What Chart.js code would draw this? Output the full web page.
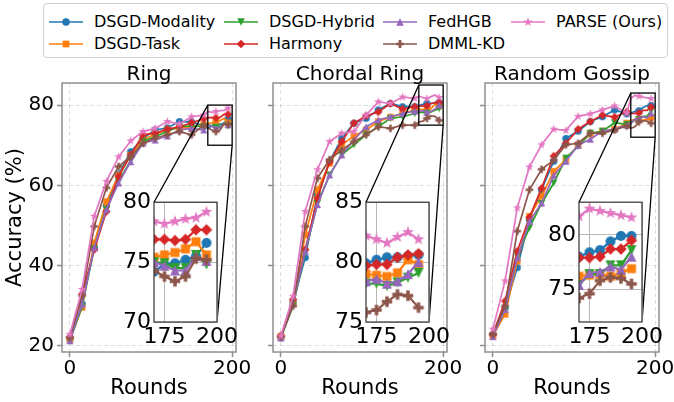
<!DOCTYPE html>
<html>
<head>
<meta charset="UTF-8">
<title>Accuracy vs Rounds</title>
<script src="https://cdn.jsdelivr.net/npm/chart.js@4"></script>
<style>
*{margin:0; padding:0;}
body{background:#fff; font-family:"DejaVu Sans", sans-serif;}
#wrap{position:relative; width:674px; height:402px; overflow:hidden; background:#fff;}
.abs{position:absolute;}
.ttl{position:absolute; font-size:20px; line-height:22px; text-align:center; width:174px; top:62px; color:#000; z-index:5;}
#legend{position:absolute; left:43px; top:3px; width:623px; height:53px; border:1px solid #d0d0d0; border-radius:4px; background:#fff; z-index:6;}
.item{position:absolute; height:20px; font-size:16px; line-height:20px; white-space:nowrap; color:#000;}
.item canvas{vertical-align:middle; margin-right:11px; position:relative; top:-1px;}
</style>
</head>
<body>
<div id="wrap">
	<div id="legend"></div>
	<canvas id="m0" class="abs" style="z-index:1"></canvas>
	<canvas id="m1" class="abs" style="z-index:1"></canvas>
	<canvas id="m2" class="abs" style="z-index:1"></canvas>
	<canvas id="ov" class="abs" style="z-index:2; left:0; top:0;" width="674" height="402"></canvas>
	<canvas id="i0" class="abs" style="z-index:3"></canvas>
	<canvas id="i1" class="abs" style="z-index:3"></canvas>
	<canvas id="i2" class="abs" style="z-index:3"></canvas>
</div>
<script>
// ---- data ----
const rounds = [0, 15, 30, 45, 60, 75, 90, 105, 120, 135, 150, 165, 170, 175, 180, 185, 190, 195];
const methods = ['DSGD-Modality', 'DSGD-Task', 'DSGD-Hybrid', 'Harmony', 'FedHGB', 'DMML-KD', 'PARSE (Ours)'];
const topologies = ['Ring', 'Chordal Ring', 'Random Gossip'];

// Ring
const ringModality = [21.8, 30.5, 44.5, 55.0, 62.8, 68.4, 71.7, 73.8, 74.3, 75.9, 75.8, 74.8, 74.2, 74.8, 74.9, 75.2, 75.5, 76.6];
const ringTask     = [21.6, 29.6, 45.7, 56.0, 62.5, 67.5, 71.3, 72.8, 73.8, 74.3, 74.3, 75.2, 75.4, 75.6, 75.8, 76.1, 76.7, 75.6];
const ringHybrid   = [21.3, 29.8, 44.3, 54.0, 61.0, 66.2, 71.0, 72.1, 73.5, 74.6, 74.8, 74.6, 75.0, 74.9, 74.5, 74.5, 75.6, 74.8];
const ringHarmony  = [22.2, 32.9, 44.0, 53.5, 62.2, 67.6, 72.6, 73.0, 74.0, 74.6, 75.6, 76.6, 76.9, 76.9, 76.8, 76.9, 77.7, 77.7];
const ringFedHGB   = [21.3, 30.4, 44.5, 54.0, 60.6, 65.9, 70.5, 71.3, 72.3, 73.8, 74.2, 73.8, 75.0, 74.7, 74.3, 74.3, 75.5, 75.1];
const ringDMML     = [22.2, 32.5, 49.8, 59.4, 64.7, 67.2, 70.5, 71.8, 72.6, 73.4, 72.6, 75.0, 74.3, 73.8, 73.4, 73.8, 75.3, 75.2];
const ringPARSE    = [22.9, 34.1, 52.3, 61.0, 67.1, 71.1, 73.4, 74.2, 75.9, 75.3, 77.1, 77.5, 78.4, 78.2, 78.4, 78.6, 78.7, 79.2];

// Chordal Ring
const chordModality = [22.1, 31.0, 42.0, 57.7, 66.0, 71.7, 75.5, 76.7, 78.8, 80.4, 79.6, 79.6, 79.9, 80.2, 80.4, 80.4, 80.5, 80.6];
const chordTask     = [22.4, 30.5, 47.7, 58.9, 65.5, 70.1, 72.3, 73.8, 75.9, 77.0, 77.9, 78.8, 79.0, 78.9, 78.8, 79.1, 80.2, 79.8];
const chordHybrid   = [22.0, 30.0, 43.2, 55.5, 62.6, 67.6, 70.1, 72.6, 74.6, 76.7, 77.1, 77.9, 78.2, 78.2, 78.0, 78.3, 78.7, 79.1];
const chordHarmony  = [22.5, 31.6, 44.0, 56.8, 65.9, 70.9, 75.5, 77.3, 78.3, 80.4, 79.0, 79.6, 79.7, 79.8, 79.8, 80.4, 80.6, 80.7];
const chordFedHGB   = [22.0, 30.5, 43.6, 55.2, 62.6, 67.6, 71.3, 74.6, 76.3, 77.1, 77.9, 78.5, 78.4, 78.6, 78.2, 78.4, 79.0, 80.0];
const chordDMML     = [22.3, 30.0, 49.8, 61.8, 66.4, 68.8, 70.9, 72.6, 74.6, 74.2, 75.0, 75.0, 75.8, 76.0, 76.7, 77.3, 77.2, 76.2];
const chordPARSE    = [22.5, 32.4, 53.5, 63.9, 70.9, 73.0, 73.4, 77.5, 80.8, 80.4, 82.0, 81.7, 82.2, 81.9, 81.6, 82.1, 82.5, 81.9];

// Random Gossip
const gossipModality = [22.9, 29.5, 39.5, 51.5, 58.9, 66.0, 71.7, 73.5, 75.9, 77.1, 78.8, 77.8, 78.0, 78.4, 78.6, 79.4, 79.9, 79.9];
const gossipTask     = [22.5, 27.9, 41.1, 52.3, 57.3, 63.5, 66.4, 70.0, 72.8, 73.5, 74.0, 75.5, 76.2, 76.3, 76.4, 76.2, 76.5, 76.9];
const gossipHybrid   = [22.6, 29.0, 42.4, 49.4, 55.5, 60.6, 66.8, 69.7, 73.0, 73.5, 75.6, 75.2, 75.4, 76.4, 76.4, 77.2, 77.2, 78.6];
const gossipHarmony  = [22.9, 31.2, 43.6, 52.0, 59.3, 67.3, 70.5, 74.0, 75.9, 77.5, 77.0, 78.3, 77.9, 77.9, 78.0, 78.7, 78.7, 79.5];
const gossipFedHGB   = [22.3, 29.1, 42.0, 51.0, 55.6, 62.5, 66.0, 70.0, 71.5, 73.5, 74.0, 75.0, 75.4, 76.5, 76.6, 77.1, 76.8, 78.0];
const gossipDMML     = [22.9, 30.0, 48.6, 58.9, 64.0, 66.3, 70.1, 70.5, 73.0, 73.0, 73.8, 74.8, 74.2, 74.6, 75.8, 76.1, 76.0, 75.5];
const gossipPARSE    = [24.2, 36.2, 54.4, 64.6, 70.1, 74.0, 73.7, 77.2, 77.8, 78.8, 79.8, 78.0, 81.7, 82.4, 82.2, 82.0, 81.8, 81.6];

const mainXTicks = [0, 200];
const mainYTicks = [20, 40, 60, 80];
const insetXRange = [170, 200];
const insetXTicks = [175, 200];
const insetYRanges = [[70, 80], [75, 85], [72, 83]];
const insetYTicks = [[70, 75, 80], [75, 80, 85], [75, 80]];

const series = [
	[ringModality, ringTask, ringHybrid, ringHarmony, ringFedHGB, ringDMML, ringPARSE],
	[chordModality, chordTask, chordHybrid, chordHarmony, chordFedHGB, chordDMML, chordPARSE],
	[gossipModality, gossipTask, gossipHybrid, gossipHarmony, gossipFedHGB, gossipDMML, gossipPARSE]
];

// ---- style ----
const colors = ['#1f77b4', '#ff7f0e', '#2ca02c', '#d62728', '#9467bd', '#8c564b', '#e377c2'];
const markers = ['o', 's', 'v', 'D', '^', 'P', '*'];
const SPINE = '#8f8f8f';
const GRID = 'rgba(0,0,0,0.13)';

const plotLeft = [62, 273, 485];
const PLOT_W = 174, PLOT_TOP = 83, PLOT_H = 269;
const YW = 62, TOP_PAD = 23, RIGHT_PAD = 25, XH = 50;

const insetLeft = [154, 366, 579];
const INSET_W = 63, INSET_TOP = 200, INSET_H = 122;
const IYW = 46, ITOP = 14, IRIGHT = 24, IXH = 30;

Chart.defaults.font.family = '"DejaVu Sans", sans-serif';
Chart.defaults.color = '#000';

function drawMarker(ctx, shape, cx, cy, s, color) {
	const h = s / 2;
	ctx.fillStyle = color;
	ctx.beginPath();
	if (shape === 'o') {
		ctx.arc(cx, cy, h, 0, Math.PI * 2);
	} else if (shape === 's') {
		const a = h * 0.9;
		ctx.rect(cx - a, cy - a, 2 * a, 2 * a);
	} else if (shape === 'v') {
		ctx.moveTo(cx - h, cy - h); ctx.lineTo(cx + h, cy - h); ctx.lineTo(cx, cy + h); ctx.closePath();
	} else if (shape === '^') {
		ctx.moveTo(cx - h, cy + h); ctx.lineTo(cx + h, cy + h); ctx.lineTo(cx, cy - h); ctx.closePath();
	} else if (shape === 'D') {
		const a = h * 1.15;
		ctx.moveTo(cx, cy - a); ctx.lineTo(cx + a, cy); ctx.lineTo(cx, cy + a); ctx.lineTo(cx - a, cy); ctx.closePath();
	} else if (shape === 'P') {
		const a = h * 1.05, w = a / 3;
		const pts = [[-w,-a],[w,-a],[w,-w],[a,-w],[a,w],[w,w],[w,a],[-w,a],[-w,w],[-a,w],[-a,-w],[-w,-w]];
		pts.forEach((p, k) => k ? ctx.lineTo(cx + p[0], cy + p[1]) : ctx.moveTo(cx + p[0], cy + p[1]));
		ctx.closePath();
	} else if (shape === '*') {
		const R = h * 1.25, r = R * 0.4;
		for (let k = 0; k < 10; k++) {
			const ang = -Math.PI / 2 + k * Math.PI / 5;
			const rr = k % 2 ? r : R;
			k ? ctx.lineTo(cx + rr * Math.cos(ang), cy + rr * Math.sin(ang)) : ctx.moveTo(cx + rr * Math.cos(ang), cy + rr * Math.sin(ang));
		}
		ctx.closePath();
	}
	ctx.fill();
}

function markerImage(k, s) {
	const c = document.createElement('canvas');
	const n = Math.ceil(s * 1.4) + 2;
	c.width = n; c.height = n;
	drawMarker(c.getContext('2d'), markers[k], n / 2, n / 2, s, colors[k]);
	return c;
}

const frame = (color, width, fill) => ({
	id: 'frame',
	beforeDraw(chart) {
		if (!fill) return;
		const a = chart.chartArea, ctx = chart.ctx;
		ctx.save(); ctx.fillStyle = '#fff'; ctx.fillRect(a.left, a.top, a.right - a.left, a.bottom - a.top); ctx.restore();
	},
	afterDraw(chart) {
		const a = chart.chartArea, ctx = chart.ctx;
		ctx.save(); ctx.strokeStyle = color; ctx.lineWidth = width;
		ctx.strokeRect(a.left, a.top, a.right - a.left, a.bottom - a.top); ctx.restore();
	}
});

function datasetsFor(i, small) {
	return series[i].map((vals, k) => ({
		label: methods[k],
		data: rounds.map((r, j) => ({x: r, y: vals[j]})),
		borderColor: colors[k],
		backgroundColor: colors[k],
		borderWidth: small ? 1.7 : 2.2,
		tension: 0,
		clip: 0,
		order: 6 - k,
		pointStyle: markerImage(k, small ? 7.2 : 10),
		pointRadius: small ? (c => rounds[c.dataIndex] % 15 === 0 ? 3 : 0) : 4,
		pointHoverRadius: 0
	}));
}

const mains = [], insets = [];
for (let i = 0; i < 3; i++) {
	// main panel
	const cv = document.getElementById('m' + i);
	cv.width = YW + PLOT_W + RIGHT_PAD; cv.height = TOP_PAD + PLOT_H + XH;
	cv.style.left = (plotLeft[i] - YW) + 'px'; cv.style.top = (PLOT_TOP - TOP_PAD) + 'px';
	mains.push(new Chart(cv, {
		type: 'line',
		data: {datasets: datasetsFor(i, true)},
		options: {
			responsive: false, animation: false, events: [], devicePixelRatio: 1,
			layout: {autoPadding: false, padding: {top: TOP_PAD, right: RIGHT_PAD, left: 0, bottom: 0}},
			plugins: {legend: {display: false}, tooltip: {enabled: false}},
			scales: {
				x: {
					type: 'linear', min: -9.75, max: 204.75,
					afterBuildTicks: s => { s.ticks = mainXTicks.map(v => ({value: v})); },
					afterFit: s => { s.height = XH; },
					grid: {color: GRID, lineWidth: 1, tickColor: SPINE, tickLength: 5, tickWidth: 1.5},
					border: {display: false, dash: [4, 3]},
					ticks: {font: {size: 20}, padding: 0, maxRotation: 0, autoSkip: false},
					title: {display: true, text: 'Rounds', font: {size: 21}, padding: {top: 0, bottom: 1}}
				},
				y: {
					type: 'linear', min: 18.5, max: 85.5,
					afterBuildTicks: s => { s.ticks = mainYTicks.map(v => ({value: v})); },
					afterFit: s => { s.width = YW; },
					grid: {color: GRID, lineWidth: 1, tickColor: SPINE, tickLength: 5, tickWidth: 1.5},
					border: {display: false, dash: [4, 3]},
					ticks: {display: i === 0, font: {size: 20}, padding: 3},
					title: {display: i === 0, text: 'Accuracy (%)', font: {size: 21}, padding: {top: 3, bottom: 0}}
				}
			}
		},
		plugins: [frame(SPINE, 1.5, false)]
	}));

	// title
	const t = document.createElement('div');
	t.className = 'ttl';
	t.textContent = topologies[i];
	t.style.left = plotLeft[i] + 'px';
	document.getElementById('wrap').appendChild(t);

	// inset panel
	const ic = document.getElementById('i' + i);
	ic.width = IYW + INSET_W + IRIGHT; ic.height = ITOP + INSET_H + IXH;
	ic.style.left = (insetLeft[i] - IYW) + 'px'; ic.style.top = (INSET_TOP - ITOP) + 'px';
	insets.push(new Chart(ic, {
		type: 'line',
		data: {datasets: datasetsFor(i, false)},
		options: {
			responsive: false, animation: false, events: [], devicePixelRatio: 1,
			layout: {autoPadding: false, padding: {top: ITOP, right: IRIGHT, left: 0, bottom: 0}},
			plugins: {legend: {display: false}, tooltip: {enabled: false}},
			scales: {
				x: {
					type: 'linear', min: insetXRange[0], max: insetXRange[1],
					afterBuildTicks: s => { s.ticks = insetXTicks.map(v => ({value: v})); },
					afterFit: s => { s.height = IXH; },
					grid: {color: '#b8b8b8', lineWidth: 1, drawTicks: false},
					border: {display: false},
					ticks: {font: {size: 22}, padding: 2, maxRotation: 0, autoSkip: false}
				},
				y: {
					type: 'linear', min: insetYRanges[i][0], max: insetYRanges[i][1],
					afterBuildTicks: s => { s.ticks = insetYTicks[i].map(v => ({value: v})); },
					afterFit: s => { s.width = IYW; },
					grid: {color: '#b8b8b8', lineWidth: 1, drawTicks: false},
					border: {display: false},
					ticks: {font: {size: 22}, padding: 3}
				}
			}
		},
		plugins: [frame('#333', 1.2, true)]
	}));
}

// zoom box + connector lines
const ov = document.getElementById('ov').getContext('2d');
ov.strokeStyle = '#000';
ov.lineWidth = 1.3;
for (let i = 0; i < 3; i++) {
	const m = mains[i], n = insets[i];
	const mx = parseFloat(m.canvas.style.left), my = parseFloat(m.canvas.style.top);
	const x1 = mx + m.scales.x.getPixelForValue(insetXRange[0]);
	const x2 = mx + m.scales.x.getPixelForValue(insetXRange[1]);
	const y1 = my + m.scales.y.getPixelForValue(insetYRanges[i][1]);
	const y2 = my + m.scales.y.getPixelForValue(insetYRanges[i][0]);
	ov.strokeRect(x1, y1, x2 - x1, y2 - y1);
	const nx = parseFloat(n.canvas.style.left), ny = parseFloat(n.canvas.style.top);
	const a = n.chartArea;
	ov.beginPath();
	ov.moveTo(x1, y1); ov.lineTo(nx + a.left, ny + a.top);
	ov.moveTo(x2, y2); ov.lineTo(nx + a.right, ny + a.bottom);
	ov.stroke();
}

// legend (column-major, 4 columns x 2 rows)
const legendCols = [5, 180, 339, 467];
const legendRows = [8, 30];
const lg = document.getElementById('legend');
methods.forEach((name, k) => {
	const it = document.createElement('div');
	it.className = 'item';
	it.style.left = legendCols[Math.floor(k / 2)] + 'px';
	it.style.top = legendRows[k % 2] + 'px';
	const c = document.createElement('canvas');
	c.width = 34; c.height = 14;
	const cx = c.getContext('2d');
	cx.strokeStyle = colors[k]; cx.lineWidth = 1.5;
	cx.beginPath(); cx.moveTo(0, 7); cx.lineTo(34, 7); cx.stroke();
	drawMarker(cx, markers[k], 17, 7, 7.5, colors[k]);
	it.appendChild(c);
	it.appendChild(document.createTextNode(name));
	lg.appendChild(it);
});
</script>
</body>
</html>
